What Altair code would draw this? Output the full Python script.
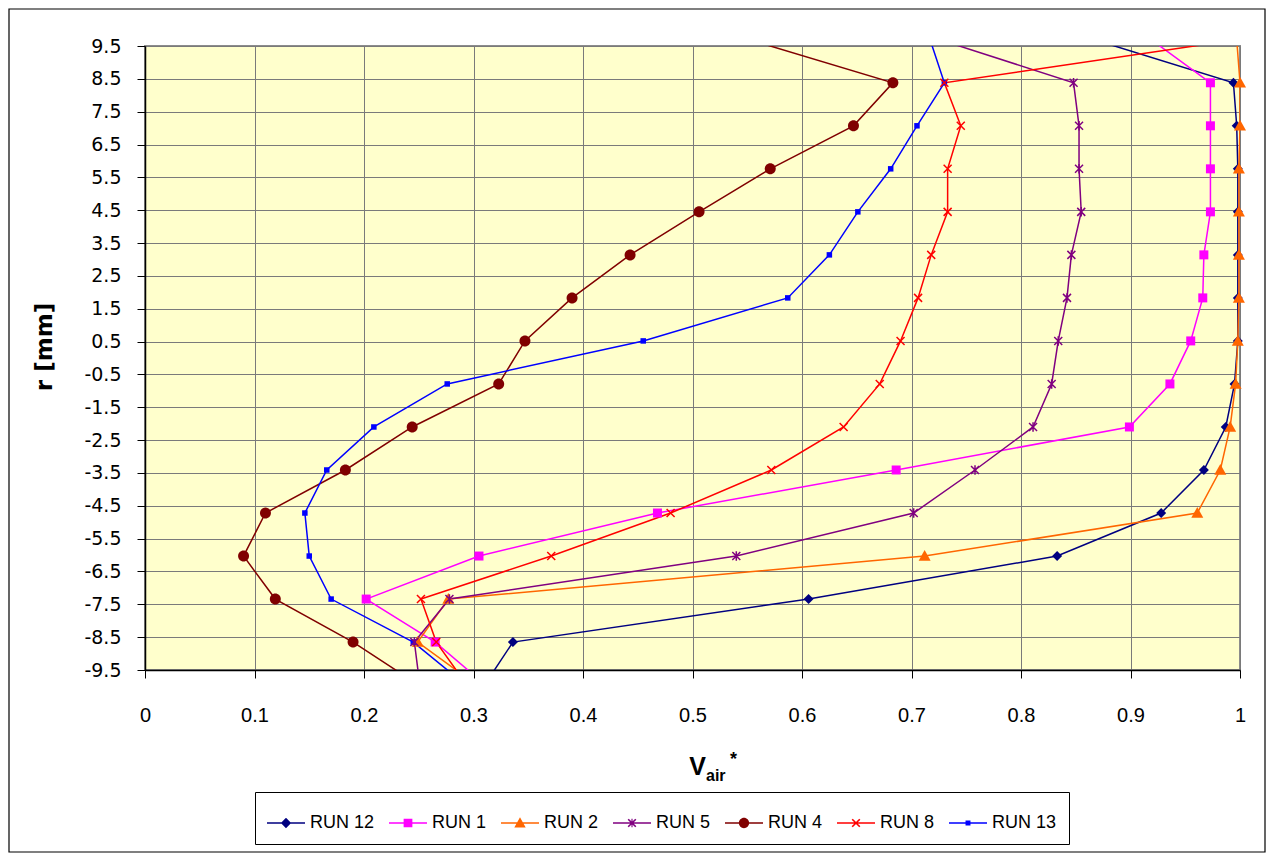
import altair as alt
import pandas as pd

FONT = "Liberation Sans"
WIDE = "DejaVu Sans"

# ---------------- data ----------------
series = ["RUN 12", "RUN 1", "RUN 2", "RUN 5", "RUN 4", "RUN 8", "RUN 13"]
colors = ["#000080", "#FF00FF", "#FF6600", "#800080", "#800000", "#FF0000", "#0000FF"]

r_mm = [9.69, 8.38, 7.07, 5.76, 4.45, 3.14, 1.83, 0.52, -0.79, -2.10,
        -3.41, -4.72, -6.03, -7.34, -8.65, -9.96]

run12 = [0.867, 0.994, 0.997, 0.998, 0.998, 0.998, 0.998, 0.998, 0.995, 0.987,
         0.967, 0.928, 0.833, 0.606, 0.336, 0.310]
run1 = [0.919, 0.973, 0.973, 0.973, 0.973, 0.967, 0.966, 0.955, 0.936, 0.899,
        0.686, 0.468, 0.305, 0.202, 0.265, 0.311]
run2 = [0.997, 1.000, 1.000, 0.999, 0.999, 0.999, 0.999, 0.998, 0.996, 0.991,
        0.982, 0.961, 0.712, 0.277, 0.249, 0.303]
run5 = [0.726, 0.848, 0.853, 0.853, 0.855, 0.846, 0.842, 0.834, 0.828, 0.811,
        0.758, 0.702, 0.540, 0.278, 0.246, 0.251]
run4 = [0.552, 0.683, 0.647, 0.571, 0.506, 0.443, 0.390, 0.347, 0.323, 0.244,
        0.183, 0.110, 0.090, 0.119, 0.190, 0.250]
run8 = [0.997, 0.730, 0.745, 0.733, 0.733, 0.718, 0.706, 0.690, 0.671, 0.638,
        0.572, 0.480, 0.371, 0.252, 0.266, 0.294]
run13 = [0.717, 0.730, 0.705, 0.681, 0.651, 0.625, 0.587, 0.455, 0.276, 0.209,
         0.166, 0.146, 0.150, 0.170, 0.245, 0.293]

x_ticks = [0, 0.1, 0.2, 0.3, 0.4, 0.5, 0.6, 0.7, 0.8, 0.9, 1]
y_ticks = [9.5, 8.5, 7.5, 6.5, 5.5, 4.5, 3.5, 2.5, 1.5, 0.5, -0.5, -1.5, -2.5,
           -3.5, -4.5, -5.5, -6.5, -7.5, -8.5, -9.5]

y_title = ["r [mm]"]
x_title_main = ["V"]
x_title_sub = ["air"]
x_title_sup = ["*"]

filled_series = ["RUN 12", "RUN 1", "RUN 2", "RUN 4", "RUN 13"]
stroked_series = ["RUN 5", "RUN 8"]

rows = []
for name, vals in zip(series, [run12, run1, run2, run5, run4, run8, run13]):
    for i, (r, v) in enumerate(zip(r_mm, vals)):
        rows.append({"series": name, "idx": i, "r": r, "v": v})
df = pd.DataFrame(rows)

# ---------------- marker shapes ----------------
plot_shapes = [
    "M0,-1L1,0L0,1L-1,0Z",                                   # diamond
    "M-0.9,-0.9H0.9V0.9H-0.9Z",                              # square
    "M0,-1.2L1.2,0.95H-1.2Z",                                # triangle
    "M-0.8,-0.8L0.8,0.8M-0.8,0.8L0.8,-0.8M0,-0.95V0.95",     # star
    "M-1.1,0A1.1,1.1 0 1,1 1.1,0A1.1,1.1 0 1,1 -1.1,0Z",     # circle
    "M-0.8,-0.8L0.8,0.8M-0.8,0.8L0.8,-0.8",                  # x
    "M-0.55,-0.55H0.55V0.55H-0.55Z",                         # small square
]
LINE = "M-1,-0.04H1V0.04H-1Z"
D1 = "M-0.23,-0.17L-0.17,-0.23L0.23,0.17L0.17,0.23Z"
D2 = "M-0.23,0.17L0.17,-0.23L0.23,-0.17L-0.17,0.23Z"
legend_shapes = [
    LINE + "M0,-0.27L0.27,0L0,0.27L-0.27,0Z",
    LINE + "M-0.23,-0.23H0.23V0.23H-0.23Z",
    LINE + "M0,-0.3L0.3,0.24H-0.3Z",
    LINE + "M-0.03,-0.23H0.03V0.23H-0.03Z" + D1 + D2,
    LINE + "M-0.27,0A0.27,0.27 0 1,1 0.27,0A0.27,0.27 0 1,1 -0.27,0Z",
    LINE + D1 + D2,
    LINE + "M-0.13,-0.13H0.13V0.13H-0.13Z",
]

# ---------------- scales / axes ----------------
xscale = alt.Scale(domain=[0, 1], nice=False, zero=False)
yscale = alt.Scale(domain=[-9.5, 9.5], nice=False, zero=False)
cscale = alt.Scale(domain=series, range=colors)

xaxis = alt.Axis(values=x_ticks, format=".1~f", title=None, grid=True,
                 gridColor="#7a7a7a", gridWidth=1, domainColor="black",
                 domainWidth=1.5, tickColor="black", tickSize=8, tickWidth=1,
                 labelFont=FONT, labelFontSize=20, labelPadding=27,
                 labelColor="black", labelFlush=False, labelOverlap=False)
yaxis = alt.Axis(values=y_ticks, format=".1f",
                 labelExpr="replace(datum.label, '\u2212', '-')",
                 title=None, grid=True, gridColor="#7a7a7a", gridWidth=1,
                 domainColor="black", domainWidth=1.5, tickColor="black",
                 tickSize=8, tickWidth=1, labelFont=WIDE, labelFontSize=19,
                 labelPadding=16, labelColor="black", labelFlush=False,
                 labelOverlap=False)

X = alt.X("v:Q", scale=xscale, axis=xaxis)
Y = alt.Y("r:Q", scale=yscale, axis=yaxis)

base = alt.Chart(df)

lines = base.mark_line(clip=True, strokeWidth=1.5).encode(
    x=X, y=Y,
    color=alt.Color("series:N", scale=cscale, legend=None),
    order=alt.Order("idx:Q"),
    detail="series:N",
)

in_range = alt.FieldRangePredicate(field="r", range=[-9.5, 9.5])

pts_filled = base.mark_point(filled=True, size=100, opacity=1, strokeWidth=0).encode(
    x=X, y=Y,
    color=alt.Color("series:N", scale=cscale, legend=None),
    shape=alt.Shape("series:N", scale=alt.Scale(domain=series, range=plot_shapes), legend=None),
).transform_filter(in_range).transform_filter(
    alt.FieldOneOfPredicate(field="series", oneOf=filled_series))

pts_stroked = base.mark_point(filled=False, size=100, opacity=1, strokeWidth=1.5).encode(
    x=X, y=Y,
    color=alt.Color("series:N", scale=cscale, legend=None),
    shape=alt.Shape("series:N", scale=alt.Scale(domain=series, range=plot_shapes), legend=None),
).transform_filter(in_range).transform_filter(
    alt.FieldOneOfPredicate(field="series", oneOf=stroked_series))

leg = alt.Legend(orient="none", legendX=110, legendY=746, direction="horizontal",
                 columns=7, title=None, symbolSize=1444, symbolStrokeWidth=0,
                 symbolOpacity=1, labelFont=FONT, labelFontSize=18,
                 labelColor="black", labelOffset=5, labelLimit=0,
                 columnPadding=14, padding=12, fillColor="white",
                 strokeColor="black")

legend_layer = base.mark_point(filled=True, size=100).encode(
    x=X, y=Y,
    color=alt.Color("series:N", scale=cscale, legend=leg),
    shape=alt.Shape("series:N", scale=alt.Scale(domain=series, range=legend_shapes), legend=leg),
).transform_filter("false")

# ---------------- titles ----------------
yt = alt.Chart(pd.DataFrame({"t": y_title})).mark_text(
    angle=270, font=WIDE, fontSize=23, fontWeight="bold", color="black",
    align="center", baseline="middle").encode(
    text="t:N", x=alt.value(-100), y=alt.value(301))

xt1 = alt.Chart(pd.DataFrame({"t": x_title_main})).mark_text(
    font=FONT, fontSize=25, fontWeight="bold", color="black",
    align="right", baseline="alphabetic").encode(
    text="t:N", x=alt.value(561), y=alt.value(729))
xt2 = alt.Chart(pd.DataFrame({"t": x_title_sub})).mark_text(
    font=FONT, fontSize=16, fontWeight="bold", color="black",
    align="left", baseline="alphabetic").encode(
    text="t:N", x=alt.value(561), y=alt.value(735))
xt3 = alt.Chart(pd.DataFrame({"t": x_title_sup})).mark_text(
    font=FONT, fontSize=18, fontWeight="bold", color="black",
    align="left", baseline="alphabetic").encode(
    text="t:N", x=alt.value(585), y=alt.value(719))

frame = alt.Chart(pd.DataFrame({"f": [0]})).mark_rect(
    fillOpacity=0, stroke="black", strokeWidth=1.2).encode(
    x=alt.value(-136), x2=alt.value(1120), y=alt.value(-37), y2=alt.value(806))

chart = alt.layer(
    lines, pts_filled, pts_stroked, legend_layer, yt, xt1, xt2, xt3, frame
).resolve_scale(
    color="independent", shape="independent"
).properties(
    width=1095, height=624,
    autosize=alt.AutoSizeParams(type="none"),
    padding={"left": 137, "top": 38, "right": 26, "bottom": 183},
    background="white",
).configure_view(
    fill="#FFFFCC", stroke="#8c8c8c", strokeWidth=2
)

chart.save("out.html", embed_options={"renderer": "svg", "actions": False})
